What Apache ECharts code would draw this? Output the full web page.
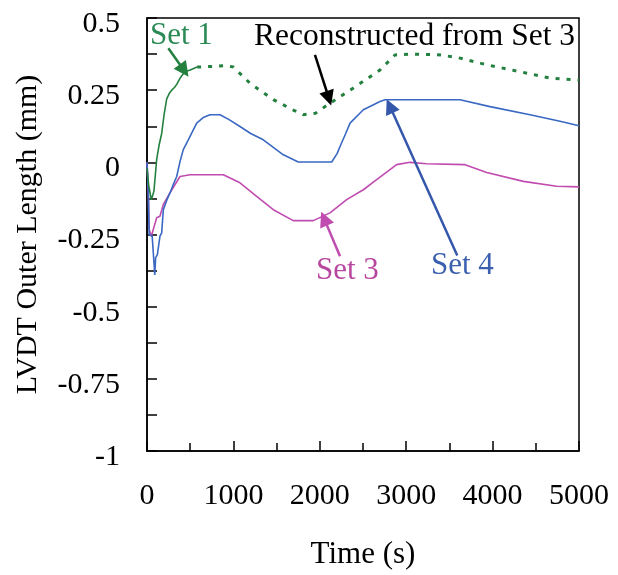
<!DOCTYPE html>
<html>
<head>
<meta charset="utf-8">
<script src="https://cdn.jsdelivr.net/npm/echarts@6/dist/echarts.min.js"></script>
<style>
html,body{margin:0;padding:0;background:#fff;}
#chart{width:618px;height:575px;}
</style>
</head>
<body>
<div id="chart"></div>
<script>
// Set 1 (solid green, early part)
const set1Time = [0, 20, 50, 80, 112, 140, 170, 200, 228, 260, 286, 320, 344, 380, 402, 440, 500, 580];
const set1Val  = [-0.02, -0.08, -0.13, -0.1, 0.01, 0.06, 0.10, 0.17, 0.22, 0.24, 0.25, 0.26, 0.27, 0.29, 0.30, 0.314, 0.32, 0.33];
// Reconstructed from Set 3 (dotted green)
const reconTime = [580, 729, 922, 1000, 1192, 1462, 1700, 1809, 1950, 2118, 2350, 2500, 2697, 2870, 3082, 3400, 3623, 3932, 4317, 4664, 5000];
const reconVal  = [0.33, 0.332, 0.335, 0.33, 0.274, 0.217, 0.18, 0.165, 0.17, 0.205, 0.25, 0.28, 0.32, 0.372, 0.375, 0.372, 0.361, 0.338, 0.314, 0.292, 0.285];
// Set 4 (blue)
const set4Time = [0, 15, 25, 60, 90, 100, 120, 150, 170, 189, 230, 266, 300, 344, 380, 420, 478, 575, 650, 729, 845, 950, 1076, 1200, 1346, 1578, 1751, 2138, 2200, 2234, 2300, 2350, 2504, 2697, 2755, 3623, 3970, 4433, 4780, 5000];
const set4Val  = [0, -0.1, -0.25, -0.256, -0.39, -0.33, -0.32, -0.256, -0.244, -0.164, -0.13, -0.106, -0.08, -0.049, 0.0, 0.044, 0.078, 0.136, 0.155, 0.165, 0.165, 0.148, 0.124, 0.1, 0.078, 0.026, 0.001, 0.001, 0.03, 0.055, 0.1, 0.136, 0.182, 0.211, 0.217, 0.217, 0.193, 0.165, 0.142, 0.127];
// Set 3 (magenta)
const set3Time = [0, 15, 25, 50, 73, 112, 150, 189, 266, 382, 498, 691, 883, 1076, 1269, 1462, 1693, 1925, 2118, 2311, 2504, 2658, 2889, 3044, 3237, 3681, 3932, 4356, 4741, 5000];
const set3Val  = [0, -0.1, -0.233, -0.256, -0.256, -0.192, -0.187, -0.146, -0.106, -0.049, -0.043, -0.043, -0.043, -0.071, -0.118, -0.164, -0.202, -0.202, -0.175, -0.129, -0.095, -0.06, -0.008, 0.0, -0.005, -0.008, -0.035, -0.066, -0.083, -0.085];
// Arrow annotations [x1, y1, x2, y2]
const arrowSet1  = [247, 0.395, 430, 0.318];
const arrowRecon = [1944, 0.372, 2105, 0.222];
const arrowSet3  = [2234, -0.325, 2050, -0.195];
const arrowSet4  = [3591, -0.323, 2810, 0.195];
const yTicks = [-1, -0.75, -0.5, -0.25, 0, 0.25, 0.5];

const GREEN = '#23803f', BLUE = '#3a68c2', MAG = '#c04cb0';
const FONT = '"Liberation Serif","Times New Roman",serif';
const zip = (a, b) => a.map((v, i) => [v, b[i]]);
const arrow = (a, color) => [
  {coord: [a[0], a[1]], lineStyle: {color: color, width: 2.5, type: 'solid'}},
  {coord: [a[2], a[3]]}
];

const chart = echarts.init(document.getElementById('chart'), null, {renderer: 'canvas'});
chart.setOption({
  animation: false,
  backgroundColor: '#fff',
  grid: {left: 147, right: 39, top: 18, bottom: 123, show: true, borderColor: '#000', borderWidth: 1.5},
  xAxis: {
    type: 'value', min: 0, max: 5000, interval: 1000,
    name: 'Time (s)', nameLocation: 'middle', nameGap: 88,
    nameTextStyle: {fontFamily: FONT, fontSize: 31, color: '#000'},
    axisLine: {onZero: false, lineStyle: {color: '#000', width: 1.5}},
    axisTick: {inside: true, length: 10, lineStyle: {color: '#000', width: 1.5}},
    minorTick: {show: true, splitNumber: 2, length: 8, lineStyle: {color: '#000', width: 1.5}},
    splitLine: {show: false},
    axisLabel: {fontFamily: FONT, fontSize: 30, color: '#000', margin: 30, showMinLabel: true, showMaxLabel: true,
                formatter: v => String(v)}
  },
  yAxis: {
    type: 'value', min: yTicks[0], max: yTicks[yTicks.length - 1], interval: 0.25,
    name: 'LVDT Outer Length (mm)', nameLocation: 'middle', nameGap: 104,
    nameTextStyle: {fontFamily: FONT, fontSize: 30, color: '#000'},
    axisLine: {onZero: false, lineStyle: {color: '#000', width: 1.5}},
    axisTick: {inside: true, length: 10, lineStyle: {color: '#000', width: 1.5}},
    minorTick: {show: true, splitNumber: 2, length: 10, lineStyle: {color: '#000', width: 1.5}},
    splitLine: {show: false},
    axisLabel: {color: '#000', margin: 27, showMinLabel: true, showMaxLabel: true,
                formatter: v => '{a|' + v + '}',
                rich: {a: {fontFamily: FONT, fontSize: 30, color: '#000', padding: [12, 0, 0, 0]}}}
  },
  series: [
    {type: 'line', name: 'Set 3', data: zip(set3Time, set3Val), showSymbol: false, lineStyle: {color: MAG, width: 1.6}, z: 2},
    {type: 'line', name: 'Set 4', data: zip(set4Time, set4Val), showSymbol: false, lineStyle: {color: BLUE, width: 1.6}, z: 3},
    {type: 'line', name: 'Set 1', data: zip(set1Time, set1Val), showSymbol: false, lineStyle: {color: GREEN, width: 1.6}, z: 4},
    {type: 'line', name: 'Reconstructed from Set 3', data: zip(reconTime, reconVal), showSymbol: false,
     lineStyle: {color: GREEN, width: 3, type: [4, 7]}, z: 4},
    {type: 'line', name: 'arrows', data: [], silent: true,
     markLine: {
       silent: true, symbol: ['none', 'triangle'], symbolSize: 15, label: {show: false},
       animation: false,
       data: [arrow(arrowSet1, GREEN), arrow(arrowRecon, '#000'), arrow(arrowSet3, MAG), arrow(arrowSet4, '#3557ab')]
     }}
  ],
  graphic: [
    {type: 'text', left: 150, top: 20, style: {text: 'Set 1', font: '31px ' + FONT, fill: '#2a8a55'}},
    {type: 'text', left: 254, top: 21, style: {text: 'Reconstructed from Set 3', font: '31.5px ' + FONT, fill: '#000'}},
    {type: 'text', left: 316, top: 255, style: {text: 'Set 3', font: '31px ' + FONT, fill: '#b8489f'}},
    {type: 'text', left: 431, top: 250, style: {text: 'Set 4', font: '31px ' + FONT, fill: '#3a5fae'}}
  ]
});
</script>
</body>
</html>
